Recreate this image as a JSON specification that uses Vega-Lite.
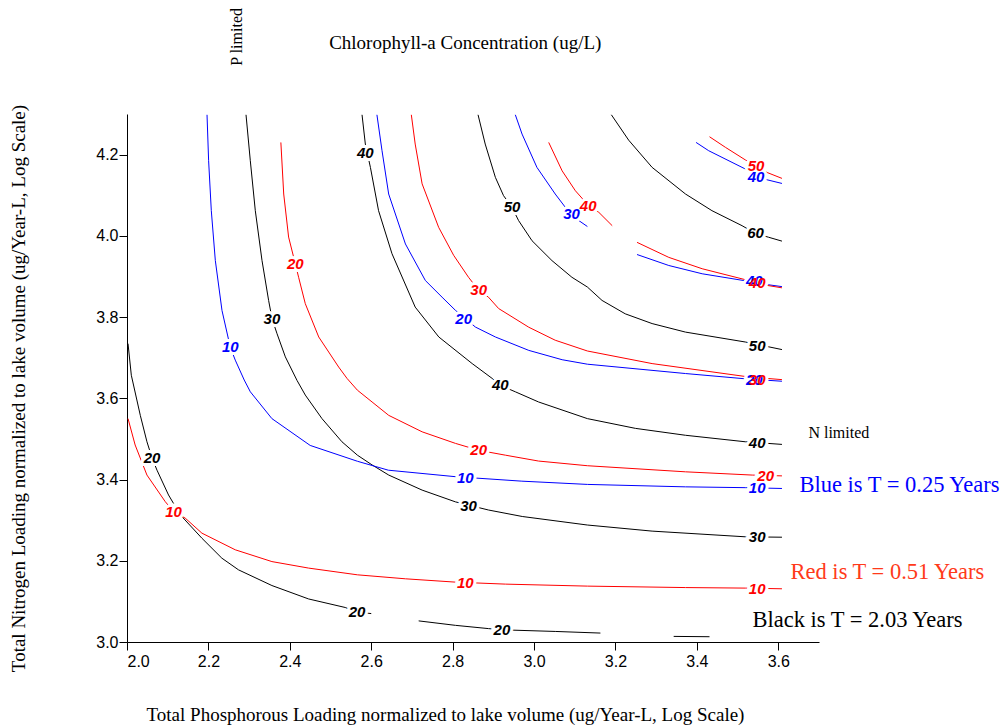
{
  "$schema": "https://vega.github.io/schema/vega-lite/v6.json",
  "width": 692,
  "height": 528,
  "autosize": {"type": "none"},
  "padding": {"left": 127, "top": 114, "right": 185, "bottom": 83},
  "background": "white",
  "config": {
    "view": {"stroke": null},
    "axis": {
      "grid": false,
      "domainColor": "black",
      "tickColor": "black",
      "labelColor": "black",
      "titleColor": "black",
      "tickSize": 8,
      "labelFont": "Liberation Sans",
      "labelFontSize": 16,
      "titleFont": "Liberation Serif",
      "titleFontSize": 19,
      "titleFontWeight": "normal"
    }
  },
  "datasets": {
    "lines": [
      {"s":"k20a","T":"2.03","x":2.0025,"y":3.7346},{"s":"k20a","T":"2.03","x":2.0106,"y":3.6568},{"s":"k20a","T":"2.03","x":2.0327,"y":3.558},{"s":"k20a","T":"2.03","x":2.049,"y":3.493},{"s":"k20a","T":"2.03","x":2.0614,"y":3.4536},{"s":"k20a","T":"2.03","x":2.0737,"y":3.423},{"s":"k20a","T":"2.03","x":2.102,"y":3.362},{"s":"k20a","T":"2.03","x":2.131,"y":3.313},{"s":"k20a","T":"2.03","x":2.184,"y":3.2555},{"s":"k20a","T":"2.03","x":2.233,"y":3.2064},{"s":"k20a","T":"2.03","x":2.274,"y":3.1776},{"s":"k20a","T":"2.03","x":2.356,"y":3.139},{"s":"k20a","T":"2.03","x":2.446,"y":3.106},{"s":"k20a","T":"2.03","x":2.536,"y":3.085},{"s":"k20a","T":"2.03","x":2.565,"y":3.0737},{"s":"k20a","T":"2.03","x":2.6,"y":3.07},
      {"s":"k20b","T":"2.03","x":2.7165,"y":3.052},{"s":"k20b","T":"2.03","x":2.807,"y":3.041},{"s":"k20b","T":"2.03","x":2.888,"y":3.033},{"s":"k20b","T":"2.03","x":2.921,"y":3.03},{"s":"k20b","T":"2.03","x":3.052,"y":3.026},{"s":"k20b","T":"2.03","x":3.163,"y":3.022},
      {"s":"k20c","T":"2.03","x":3.343,"y":3.0138},{"s":"k20c","T":"2.03","x":3.431,"y":3.013},
      {"s":"k30","T":"2.03","x":2.2924,"y":4.298},{"s":"k30","T":"2.03","x":2.3029,"y":4.185},{"s":"k30","T":"2.03","x":2.3152,"y":4.062},{"s":"k30","T":"2.03","x":2.3317,"y":3.939},{"s":"k30","T":"2.03","x":2.3479,"y":3.841},{"s":"k30","T":"2.03","x":2.3563,"y":3.796},{"s":"k30","T":"2.03","x":2.3686,"y":3.759},{"s":"k30","T":"2.03","x":2.389,"y":3.702},{"s":"k30","T":"2.03","x":2.4177,"y":3.644},{"s":"k30","T":"2.03","x":2.438,"y":3.608},{"s":"k30","T":"2.03","x":2.479,"y":3.55},{"s":"k30","T":"2.03","x":2.528,"y":3.493},{"s":"k30","T":"2.03","x":2.566,"y":3.46},{"s":"k30","T":"2.03","x":2.602,"y":3.436},{"s":"k30","T":"2.03","x":2.643,"y":3.411},{"s":"k30","T":"2.03","x":2.725,"y":3.374},{"s":"k30","T":"2.03","x":2.807,"y":3.345},{"s":"k30","T":"2.03","x":2.888,"y":3.325},{"s":"k30","T":"2.03","x":2.971,"y":3.309},{"s":"k30","T":"2.03","x":3.131,"y":3.288},{"s":"k30","T":"2.03","x":3.29,"y":3.273},{"s":"k30","T":"2.03","x":3.519,"y":3.259},{"s":"k30","T":"2.03","x":3.609,"y":3.258},
      {"s":"k40","T":"2.03","x":2.5774,"y":4.298},{"s":"k40","T":"2.03","x":2.5855,"y":4.226},{"s":"k40","T":"2.03","x":2.598,"y":4.1685},{"s":"k40","T":"2.03","x":2.618,"y":4.062},{"s":"k40","T":"2.03","x":2.651,"y":3.956},{"s":"k40","T":"2.03","x":2.708,"y":3.8246},{"s":"k40","T":"2.03","x":2.766,"y":3.751},{"s":"k40","T":"2.03","x":2.848,"y":3.6855},{"s":"k40","T":"2.03","x":2.897,"y":3.649},{"s":"k40","T":"2.03","x":2.917,"y":3.632},{"s":"k40","T":"2.03","x":2.954,"y":3.616},{"s":"k40","T":"2.03","x":3.011,"y":3.591},{"s":"k40","T":"2.03","x":3.131,"y":3.55},{"s":"k40","T":"2.03","x":3.249,"y":3.526},{"s":"k40","T":"2.03","x":3.372,"y":3.509},{"s":"k40","T":"2.03","x":3.519,"y":3.493},{"s":"k40","T":"2.03","x":3.609,"y":3.4865},
      {"s":"k50","T":"2.03","x":2.8624,"y":4.298},{"s":"k50","T":"2.03","x":2.88,"y":4.226},{"s":"k50","T":"2.03","x":2.905,"y":4.144},{"s":"k50","T":"2.03","x":2.925,"y":4.099},{"s":"k50","T":"2.03","x":2.946,"y":4.07},{"s":"k50","T":"2.03","x":2.962,"y":4.0376},{"s":"k50","T":"2.03","x":2.995,"y":3.988},{"s":"k50","T":"2.03","x":3.044,"y":3.939},{"s":"k50","T":"2.03","x":3.093,"y":3.898},{"s":"k50","T":"2.03","x":3.131,"y":3.874},{"s":"k50","T":"2.03","x":3.167,"y":3.841},{"s":"k50","T":"2.03","x":3.224,"y":3.808},{"s":"k50","T":"2.03","x":3.29,"y":3.784},{"s":"k50","T":"2.03","x":3.372,"y":3.763},{"s":"k50","T":"2.03","x":3.519,"y":3.7386},{"s":"k50","T":"2.03","x":3.609,"y":3.72},
      {"s":"k60","T":"2.03","x":3.19,"y":4.298},{"s":"k60","T":"2.03","x":3.2324,"y":4.2356},{"s":"k60","T":"2.03","x":3.29,"y":4.1686},{"s":"k60","T":"2.03","x":3.372,"y":4.103},{"s":"k60","T":"2.03","x":3.437,"y":4.062},{"s":"k60","T":"2.03","x":3.511,"y":4.025},{"s":"k60","T":"2.03","x":3.544,"y":4.006},{"s":"k60","T":"2.03","x":3.576,"y":3.9966},{"s":"k60","T":"2.03","x":3.609,"y":3.987},
      {"s":"b10","T":"0.25","x":2.1966,"y":4.298},{"s":"b10","T":"0.25","x":2.2005,"y":4.185},{"s":"b10","T":"0.25","x":2.2071,"y":4.062},{"s":"b10","T":"0.25","x":2.217,"y":3.939},{"s":"b10","T":"0.25","x":2.2334,"y":3.816},{"s":"b10","T":"0.25","x":2.2538,"y":3.7255},{"s":"b10","T":"0.25","x":2.266,"y":3.694},{"s":"b10","T":"0.25","x":2.288,"y":3.645},{"s":"b10","T":"0.25","x":2.303,"y":3.616},{"s":"b10","T":"0.25","x":2.356,"y":3.55},{"s":"b10","T":"0.25","x":2.45,"y":3.484},{"s":"b10","T":"0.25","x":2.566,"y":3.445},{"s":"b10","T":"0.25","x":2.642,"y":3.423},{"s":"b10","T":"0.25","x":2.807,"y":3.407},{"s":"b10","T":"0.25","x":2.97,"y":3.396},{"s":"b10","T":"0.25","x":3.131,"y":3.388},{"s":"b10","T":"0.25","x":3.372,"y":3.382},{"s":"b10","T":"0.25","x":3.519,"y":3.38},{"s":"b10","T":"0.25","x":3.609,"y":3.378},
      {"s":"b20","T":"0.25","x":2.614,"y":4.298},{"s":"b20","T":"0.25","x":2.6265,"y":4.2096},{"s":"b20","T":"0.25","x":2.6428,"y":4.103},{"s":"b20","T":"0.25","x":2.684,"y":3.98},{"s":"b20","T":"0.25","x":2.733,"y":3.89},{"s":"b20","T":"0.25","x":2.774,"y":3.849},{"s":"b20","T":"0.25","x":2.807,"y":3.8165},{"s":"b20","T":"0.25","x":2.856,"y":3.7754},{"s":"b20","T":"0.25","x":2.905,"y":3.751},{"s":"b20","T":"0.25","x":2.987,"y":3.718},{"s":"b20","T":"0.25","x":3.069,"y":3.695},{"s":"b20","T":"0.25","x":3.131,"y":3.684},{"s":"b20","T":"0.25","x":3.372,"y":3.661},{"s":"b20","T":"0.25","x":3.519,"y":3.648},{"s":"b20","T":"0.25","x":3.609,"y":3.642},
      {"s":"b30","T":"0.25","x":2.954,"y":4.298},{"s":"b30","T":"0.25","x":2.9705,"y":4.2506},{"s":"b30","T":"0.25","x":3.007,"y":4.1686},{"s":"b30","T":"0.25","x":3.052,"y":4.103},{"s":"b30","T":"0.25","x":3.077,"y":4.07},{"s":"b30","T":"0.25","x":3.11,"y":4.0376},{"s":"b30","T":"0.25","x":3.131,"y":4.023},
      {"s":"b40a","T":"0.25","x":3.398,"y":4.23},{"s":"b40a","T":"0.25","x":3.429,"y":4.2096},{"s":"b40a","T":"0.25","x":3.519,"y":4.1646},{"s":"b40a","T":"0.25","x":3.5455,"y":4.148},{"s":"b40a","T":"0.25","x":3.5725,"y":4.138},{"s":"b40a","T":"0.25","x":3.609,"y":4.129},
      {"s":"b40b","T":"0.25","x":3.253,"y":3.954},{"s":"b40b","T":"0.25","x":3.331,"y":3.927},{"s":"b40b","T":"0.25","x":3.413,"y":3.9066},{"s":"b40b","T":"0.25","x":3.527,"y":3.888},{"s":"b40b","T":"0.25","x":3.5725,"y":3.88},{"s":"b40b","T":"0.25","x":3.609,"y":3.875},
      {"s":"r10","T":"0.51","x":2.0025,"y":3.55},{"s":"r10","T":"0.51","x":2.02,"y":3.485},{"s":"r10","T":"0.51","x":2.049,"y":3.411},{"s":"r10","T":"0.51","x":2.094,"y":3.3455},{"s":"r10","T":"0.51","x":2.1145,"y":3.321},{"s":"r10","T":"0.51","x":2.143,"y":3.305},{"s":"r10","T":"0.51","x":2.184,"y":3.268},{"s":"r10","T":"0.51","x":2.266,"y":3.227},{"s":"r10","T":"0.51","x":2.356,"y":3.198},{"s":"r10","T":"0.51","x":2.446,"y":3.182},{"s":"r10","T":"0.51","x":2.566,"y":3.1654},{"s":"r10","T":"0.51","x":2.684,"y":3.1556},{"s":"r10","T":"0.51","x":2.807,"y":3.1474},{"s":"r10","T":"0.51","x":2.9295,"y":3.1425},{"s":"r10","T":"0.51","x":3.131,"y":3.1376},{"s":"r10","T":"0.51","x":3.372,"y":3.134},{"s":"r10","T":"0.51","x":3.519,"y":3.1327},{"s":"r10","T":"0.51","x":3.609,"y":3.131},
      {"s":"r20","T":"0.51","x":2.378,"y":4.23},{"s":"r20","T":"0.51","x":2.385,"y":4.103},{"s":"r20","T":"0.51","x":2.397,"y":3.997},{"s":"r20","T":"0.51","x":2.4135,"y":3.931},{"s":"r20","T":"0.51","x":2.4216,"y":3.898},{"s":"r20","T":"0.51","x":2.438,"y":3.833},{"s":"r20","T":"0.51","x":2.471,"y":3.751},{"s":"r20","T":"0.51","x":2.52,"y":3.677},{"s":"r20","T":"0.51","x":2.5405,"y":3.649},{"s":"r20","T":"0.51","x":2.566,"y":3.62},{"s":"r20","T":"0.51","x":2.602,"y":3.591},{"s":"r20","T":"0.51","x":2.643,"y":3.558},{"s":"r20","T":"0.51","x":2.725,"y":3.5175},{"s":"r20","T":"0.51","x":2.807,"y":3.489},{"s":"r20","T":"0.51","x":2.864,"y":3.472},{"s":"r20","T":"0.51","x":2.9295,"y":3.46},{"s":"r20","T":"0.51","x":3.011,"y":3.4455},{"s":"r20","T":"0.51","x":3.131,"y":3.434},{"s":"r20","T":"0.51","x":3.372,"y":3.419},{"s":"r20","T":"0.51","x":3.536,"y":3.411},{"s":"r20","T":"0.51","x":3.609,"y":3.409},
      {"s":"r30","T":"0.51","x":2.6985,"y":4.298},{"s":"r30","T":"0.51","x":2.708,"y":4.226},{"s":"r30","T":"0.51","x":2.725,"y":4.128},{"s":"r30","T":"0.51","x":2.7656,"y":4.021},{"s":"r30","T":"0.51","x":2.8025,"y":3.952},{"s":"r30","T":"0.51","x":2.839,"y":3.898},{"s":"r30","T":"0.51","x":2.864,"y":3.866},{"s":"r30","T":"0.51","x":2.888,"y":3.849},{"s":"r30","T":"0.51","x":2.913,"y":3.821},{"s":"r30","T":"0.51","x":2.987,"y":3.775},{"s":"r30","T":"0.51","x":3.052,"y":3.743},{"s":"r30","T":"0.51","x":3.131,"y":3.7165},{"s":"r30","T":"0.51","x":3.29,"y":3.6855},{"s":"r30","T":"0.51","x":3.527,"y":3.6526},{"s":"r30","T":"0.51","x":3.609,"y":3.646},
      {"s":"r40a","T":"0.51","x":3.036,"y":4.23},{"s":"r40a","T":"0.51","x":3.069,"y":4.16},{"s":"r40a","T":"0.51","x":3.1015,"y":4.111},{"s":"r40a","T":"0.51","x":3.138,"y":4.07},{"s":"r40a","T":"0.51","x":3.159,"y":4.058},{"s":"r40a","T":"0.51","x":3.192,"y":4.025},
      {"s":"r40b","T":"0.51","x":3.253,"y":3.984},{"s":"r40b","T":"0.51","x":3.331,"y":3.947},{"s":"r40b","T":"0.51","x":3.413,"y":3.919},{"s":"r40b","T":"0.51","x":3.527,"y":3.89},{"s":"r40b","T":"0.51","x":3.548,"y":3.8836},{"s":"r40b","T":"0.51","x":3.5725,"y":3.878},{"s":"r40b","T":"0.51","x":3.609,"y":3.872},
      {"s":"r50","T":"0.51","x":3.431,"y":4.244},{"s":"r50","T":"0.51","x":3.47,"y":4.218},{"s":"r50","T":"0.51","x":3.519,"y":4.187},{"s":"r50","T":"0.51","x":3.5455,"y":4.1727},{"s":"r50","T":"0.51","x":3.5725,"y":4.156},{"s":"r50","T":"0.51","x":3.609,"y":4.1415}
    ],
    "labels": [
      {"T":"0.25","v":"10","x":2.2538,"y":3.7255},
      {"T":"0.25","v":"20","x":2.827,"y":3.796},
      {"T":"0.25","v":"30","x":3.092,"y":4.054},
      {"T":"0.25","v":"40","x":3.5455,"y":4.146},
      {"T":"0.25","v":"40","x":3.541,"y":3.888},
      {"T":"0.25","v":"20","x":3.541,"y":3.645},
      {"T":"0.25","v":"10","x":2.831,"y":3.4037},
      {"T":"0.25","v":"10","x":3.548,"y":3.378},
      {"T":"0.51","v":"20","x":2.4135,"y":3.931},
      {"T":"0.51","v":"30","x":2.864,"y":3.866},
      {"T":"0.51","v":"40","x":3.133,"y":4.074},
      {"T":"0.51","v":"50","x":3.5455,"y":4.1727},
      {"T":"0.51","v":"40","x":3.548,"y":3.8836},
      {"T":"0.51","v":"30","x":3.548,"y":3.644},
      {"T":"0.51","v":"20","x":2.864,"y":3.472},
      {"T":"0.51","v":"20","x":3.569,"y":3.409},
      {"T":"0.51","v":"10","x":2.1145,"y":3.321},
      {"T":"0.51","v":"10","x":2.831,"y":3.145},
      {"T":"0.51","v":"10","x":3.548,"y":3.131},
      {"T":"2.03","v":"40","x":2.5855,"y":4.205},
      {"T":"2.03","v":"30","x":2.356,"y":3.796},
      {"T":"2.03","v":"20","x":2.0614,"y":3.4536},
      {"T":"2.03","v":"50","x":2.946,"y":4.07},
      {"T":"2.03","v":"60","x":3.544,"y":4.006},
      {"T":"2.03","v":"50","x":3.548,"y":3.728},
      {"T":"2.03","v":"40","x":2.917,"y":3.632},
      {"T":"2.03","v":"40","x":3.548,"y":3.489},
      {"T":"2.03","v":"30","x":2.839,"y":3.3356},
      {"T":"2.03","v":"30","x":3.548,"y":3.258},
      {"T":"2.03","v":"20","x":2.565,"y":3.0737},
      {"T":"2.03","v":"20","x":2.921,"y":3.03}
    ]
  },
  "layer": [
    {
      "data": {"name": "lines"},
      "mark": {"type": "line", "strokeWidth": 1, "clip": true},
      "encoding": {
        "x": {
          "field": "x", "type": "quantitative",
          "scale": {"domain": [2.0, 3.7], "nice": false, "zero": false},
          "axis": {
            "values": [2.0, 2.2, 2.4, 2.6, 2.8, 3.0, 3.2, 3.4, 3.6],
            "format": ".1f",
            "labelPadding": 3,
            "title": "Total Phosphorous Loading normalized to lake volume (ug/Year-L, Log Scale)",
            "titleX": 318,
            "titleY": 72,
            "titleAnchor": null,
            "titleAlign": "center",
            "titleBaseline": "middle"
          }
        },
        "y": {
          "field": "y", "type": "quantitative",
          "scale": {"domain": [3.0, 4.3], "nice": false, "zero": false},
          "axis": {
            "values": [3.0, 3.2, 3.4, 3.6, 3.8, 4.0, 4.2],
            "format": ".1f",
            "labelPadding": 1,
            "title": "Total Nitrogen Loading normalized to lake volume (ug/Year-L, Log Scale)",
            "titleAngle": -90,
            "titleX": -109,
            "titleY": 274,
            "titleAlign": "center",
            "titleBaseline": "middle"
          }
        },
        "detail": {"field": "s"},
        "color": {
          "field": "T", "type": "nominal",
          "scale": {"domain": ["0.25", "0.51", "2.03"], "range": ["#0000ff", "#ff0000", "#000000"]},
          "legend": null
        }
      }
    },
    {
      "data": {"name": "labels"},
      "mark": {"type": "text", "font": "Liberation Sans", "fontSize": 15, "fontWeight": "bold", "fontStyle": "italic", "baseline": "middle", "align": "center", "fill": "white", "stroke": "white", "strokeWidth": 6},
      "encoding": {
        "x": {"field": "x", "type": "quantitative"},
        "y": {"field": "y", "type": "quantitative"},
        "text": {"field": "v"}
      }
    },
    {
      "data": {"name": "labels"},
      "mark": {"type": "text", "font": "Liberation Sans", "fontSize": 15, "fontWeight": "bold", "fontStyle": "italic", "baseline": "middle", "align": "center"},
      "encoding": {
        "x": {"field": "x", "type": "quantitative"},
        "y": {"field": "y", "type": "quantitative"},
        "text": {"field": "v"},
        "color": {"field": "T", "type": "nominal", "legend": null}
      }
    },
    {
      "data": {"values": [
        {"x": 2.831, "y": 4.475, "t": "Chlorophyll-a Concentration (ug/L)"}
      ]},
      "mark": {"type": "text", "font": "Liberation Serif", "fontSize": 19, "align": "center", "baseline": "middle", "color": "black"},
      "encoding": {"x": {"field": "x", "type": "quantitative"}, "y": {"field": "y", "type": "quantitative"}, "text": {"field": "t"}}
    },
    {
      "data": {"values": [
        {"x": 2.271, "y": 4.49, "t": "P limited"}
      ]},
      "mark": {"type": "text", "font": "Liberation Serif", "fontSize": 16, "align": "center", "baseline": "middle", "angle": 270, "color": "black"},
      "encoding": {"x": {"field": "x", "type": "quantitative"}, "y": {"field": "y", "type": "quantitative"}, "text": {"field": "t"}}
    },
    {
      "data": {"values": [
        {"x": 3.674, "y": 3.514, "t": "N limited"}
      ]},
      "mark": {"type": "text", "font": "Liberation Serif", "fontSize": 16, "align": "left", "baseline": "middle", "color": "black"},
      "encoding": {"x": {"field": "x", "type": "quantitative"}, "y": {"field": "y", "type": "quantitative"}, "text": {"field": "t"}}
    },
    {
      "data": {"values": [
        {"x": 3.652, "y": 3.3875, "t": "Blue is T = 0.25 Years"}
      ]},
      "mark": {"type": "text", "font": "Liberation Serif", "fontSize": 22.5, "align": "left", "baseline": "middle", "color": "#0000ff"},
      "encoding": {"x": {"field": "x", "type": "quantitative"}, "y": {"field": "y", "type": "quantitative"}, "text": {"field": "t"}}
    },
    {
      "data": {"values": [
        {"x": 3.63, "y": 3.1727, "t": "Red is T = 0.51 Years"}
      ]},
      "mark": {"type": "text", "font": "Liberation Serif", "fontSize": 22.5, "align": "left", "baseline": "middle", "color": "#ff3a1a"},
      "encoding": {"x": {"field": "x", "type": "quantitative"}, "y": {"field": "y", "type": "quantitative"}, "text": {"field": "t"}}
    },
    {
      "data": {"values": [
        {"x": 3.5365, "y": 3.0548, "t": "Black is T = 2.03 Years"}
      ]},
      "mark": {"type": "text", "font": "Liberation Serif", "fontSize": 22.5, "align": "left", "baseline": "middle", "color": "black"},
      "encoding": {"x": {"field": "x", "type": "quantitative"}, "y": {"field": "y", "type": "quantitative"}, "text": {"field": "t"}}
    }
  ]
}
